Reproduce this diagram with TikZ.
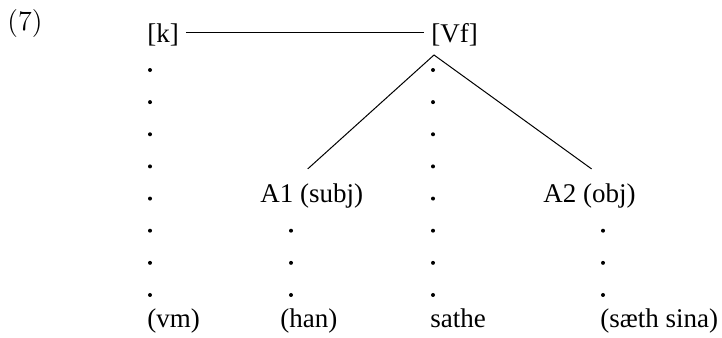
\documentclass[tikz,border=0pt]{standalone}
\usepackage{fontspec}
\setmainfont{Liberation Serif}
\newfontfamily\lmfont{Latin Modern Roman}
\begin{document}
\begin{tikzpicture}[x=0.5pt,y=-0.5pt]
    \tikzstyle{every node}+=[inner sep=0pt, font=\fontsize{13.5}{16}\selectfont]
    \tikzstyle{word}=[anchor=base west]
    \useasboundingbox (0,0) rectangle (722,337);
    \draw (7,30) node[word, font=\lmfont\fontsize{14}{16}\selectfont] (num) {(7)};
    \draw (147,42.5) node[word] (k) {[k]};
    \draw (431,42.5) node[word] (Vf) {[Vf]};
    \draw (260,202) node[word] (A1) {A1 (subj)};
    \draw (543,202) node[word] (A2) {A2 (obj)};
    \draw (147,327) node[word] (vm) {(vm)};
    \draw (280,327) node[word] (han) {(han)};
    \draw (430,327) node[word] (sathe) {sathe};
    \draw (600,327) node[word] (saeth) {(sæth sina)};
    \coordinate (apex) at (434,55);
    \draw [black, line width=0.5pt] ([shift={(3.25pt,5.25pt)}]k.base east) -- ([shift={(-3.5pt,5.25pt)}]Vf.base west);
    \draw [black, line width=0.5pt] ([shift={(-2pt,7pt)}]A1.north) -- (apex) -- ([shift={(1pt,7pt)}]A2.north);
    \foreach \i in {0,...,7} {
        \fill [black] (150,70+32.14*\i) circle (2);
        \fill [black] (433,70+32.14*\i) circle (2);
    }
    \foreach \i in {5,6,7} {
        \fill [black] (291,70+32.14*\i) circle (2);
        \fill [black] (603,70+32.14*\i) circle (2);
    }
\end{tikzpicture}
\end{document}
